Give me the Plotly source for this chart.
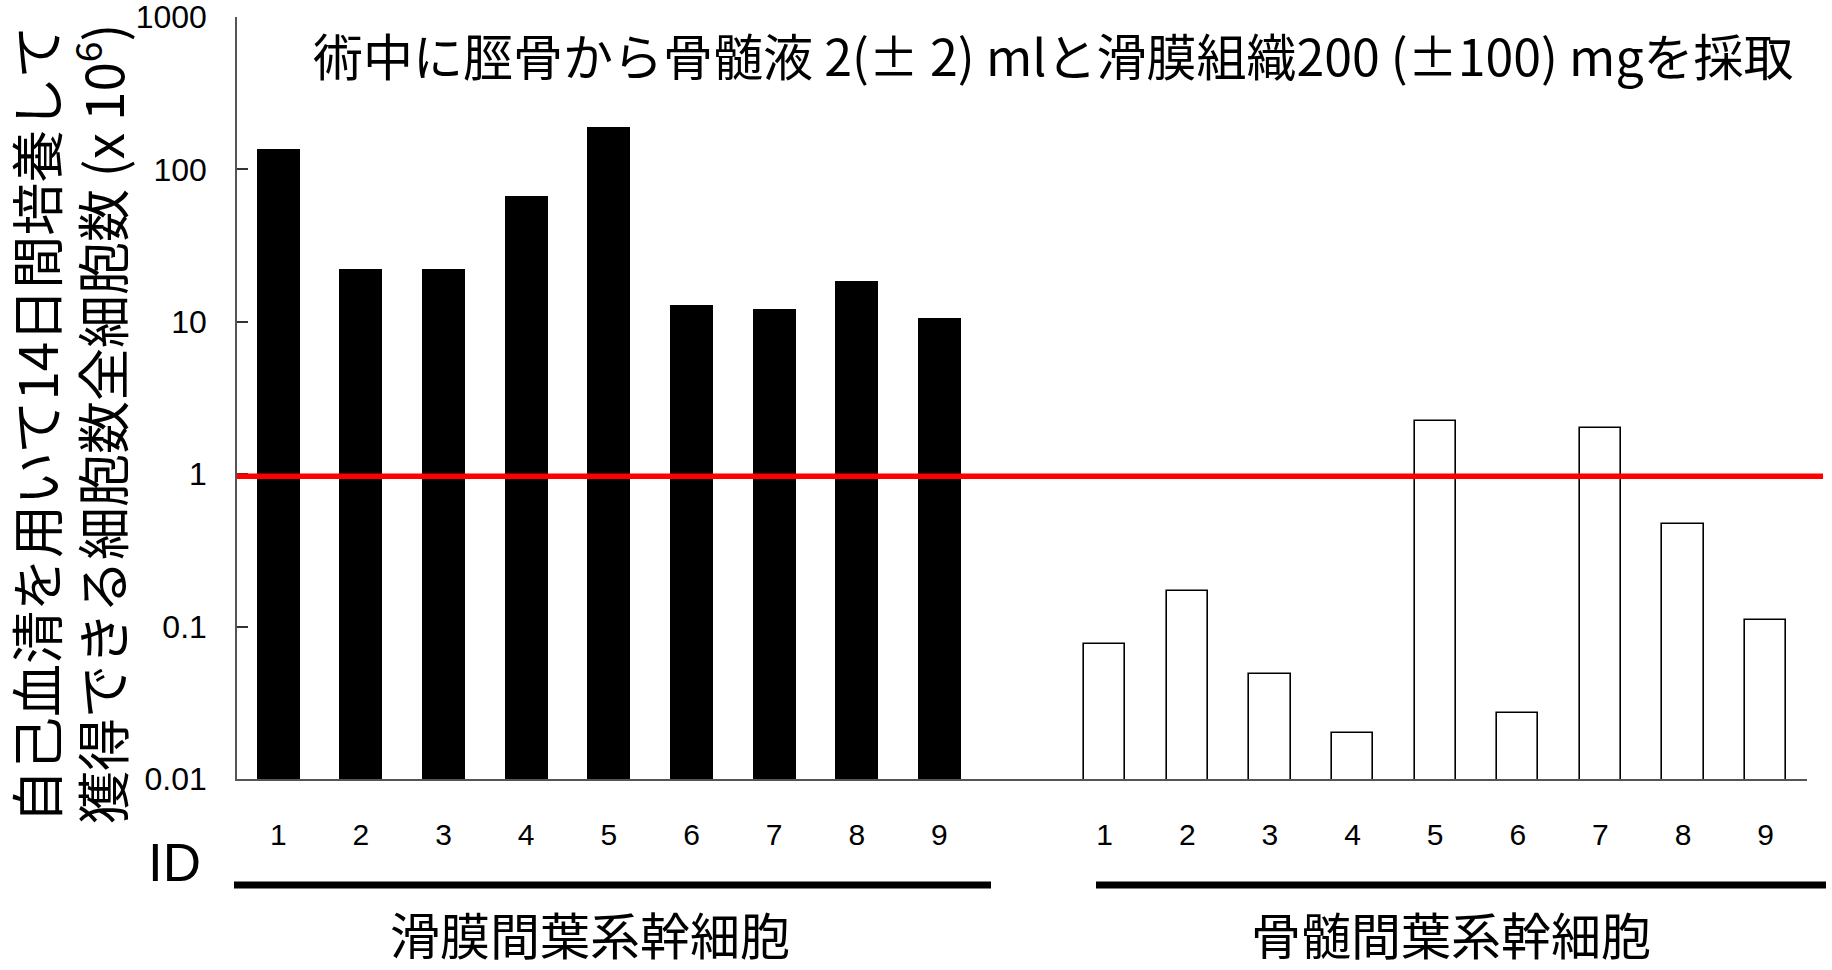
import plotly.graph_objects as go

# Cell counts after 14 days of culture with autologous serum (x 10^6 cells)
donor_ids = ["1", "2", "3", "4", "5", "6", "7", "8", "9"]
synovial_msc = [136, 22.1, 22.1, 67, 191, 12.9, 12.2, 18.6, 10.6]
marrow_msc = [0.077, 0.170, 0.049, 0.020, 2.25, 0.027, 2.01, 0.47, 0.111]
threshold = 0.97

y_tick_vals = [0.01, 0.1, 1, 10, 100, 1000]
y_tick_text = ["0.01", "0.1", "1", "10", "100", "1000"]

group_labels = ["滑膜間葉系幹細胞", "骨髄間葉系幹細胞"]
title_text = "術中に脛骨から骨髄液 2(± 2) mlと滑膜組織200 (±100) mgを採取"
y_title_lines = ["自己血清を用いて14日間培養して",
                 "獲得できる細胞数全細胞数 (x 10<sup>6</sup>)"]

W, H = 1832, 970
L, R, T, B = 237, 25, 17, 191
PW, PH = W - L - R, H - T - B

def fx(px):
    return (px - L) / PW

def fy(py):
    return (H - B - py) / PH

JP = "Noto Sans CJK JP"
LAT = "Liberation Sans"

# synovial bars occupy slots 0-8, one empty slot, marrow bars occupy 10-18
n = len(donor_ids)
x_syn = list(range(n))
x_bm = [i + n + 1 for i in range(n)]

fig = go.Figure()
fig.add_trace(go.Bar(
    x=x_syn, y=synovial_msc, width=0.52,
    marker=dict(color="black", line=dict(color="black", width=0)),
    showlegend=False,
))
fig.add_trace(go.Bar(
    x=x_bm, y=marrow_msc, width=0.5,
    marker=dict(color="white", line=dict(color="black", width=1.6)),
    showlegend=False,
))

fig.add_shape(type="line", xref="paper", yref="y",
              x0=0, x1=fx(1823), y0=threshold, y1=threshold,
              line=dict(color="#ff0000", width=5.5))

# group brackets
fig.add_shape(type="line", xref="paper", yref="paper",
              x0=fx(234), x1=fx(991), y0=fy(885), y1=fy(885),
              line=dict(color="black", width=7))
fig.add_shape(type="line", xref="paper", yref="paper",
              x0=fx(1096), x1=fx(1826), y0=fy(885), y1=fy(885),
              line=dict(color="black", width=7))

annotations = [
    dict(text=title_text, x=fx(1053), y=fy(54), xref="paper", yref="paper",
         showarrow=False, xanchor="center", yanchor="middle",
         font=dict(family=JP, size=50, color="black")),
    dict(text="ID", x=fx(174), y=fy(862), xref="paper", yref="paper",
         showarrow=False, xanchor="center", yanchor="middle",
         font=dict(family=LAT, size=53, color="black")),
    dict(text=group_labels[0], x=fx(590), y=fy(933), xref="paper", yref="paper",
         showarrow=False, xanchor="center", yanchor="middle",
         font=dict(family=JP, size=50, color="black")),
    dict(text=group_labels[1], x=fx(1451), y=fy(933), xref="paper", yref="paper",
         showarrow=False, xanchor="center", yanchor="middle",
         font=dict(family=JP, size=50, color="black")),
    dict(text=y_title_lines[0], x=fx(35), y=fy(424), xref="paper", yref="paper",
         showarrow=False, xanchor="center", yanchor="middle", textangle=-90,
         font=dict(family=JP, size=53, color="black")),
    dict(text=y_title_lines[1], x=fx(99), y=fy(424), xref="paper", yref="paper",
         showarrow=False, xanchor="center", yanchor="middle", textangle=-90,
         font=dict(family=JP, size=53, color="black")),
]

fig.update_layout(
    width=W, height=H,
    margin=dict(l=L, r=R, t=T, b=B, pad=0, autoexpand=False),
    paper_bgcolor="white", plot_bgcolor="white",
    bargap=0,
    annotations=annotations,
    xaxis=dict(
        range=[-0.5, 2 * n + 0.5],
        tickvals=x_syn + x_bm, ticktext=donor_ids + donor_ids,
        showline=True, linecolor="#555", linewidth=1.5,
        showgrid=False, zeroline=False, ticks="",
        ticklabelstandoff=28, automargin=False,
        tickfont=dict(family=LAT, size=30, color="black"),
        fixedrange=True,
    ),
    yaxis=dict(
        type="log", range=[-2, 3],
        tickvals=y_tick_vals, ticktext=y_tick_text,
        showline=True, linecolor="#555", linewidth=1.5,
        showgrid=False, zeroline=False,
        ticks="inside", ticklen=11, tickwidth=1.5, tickcolor="#333",
        ticklabelstandoff=22, automargin=False,
        ticklabeloverflow="allow",
        tickfont=dict(family=LAT, size=32, color="black"),
        fixedrange=True,
    ),
)

fig.write_html("out.html")
